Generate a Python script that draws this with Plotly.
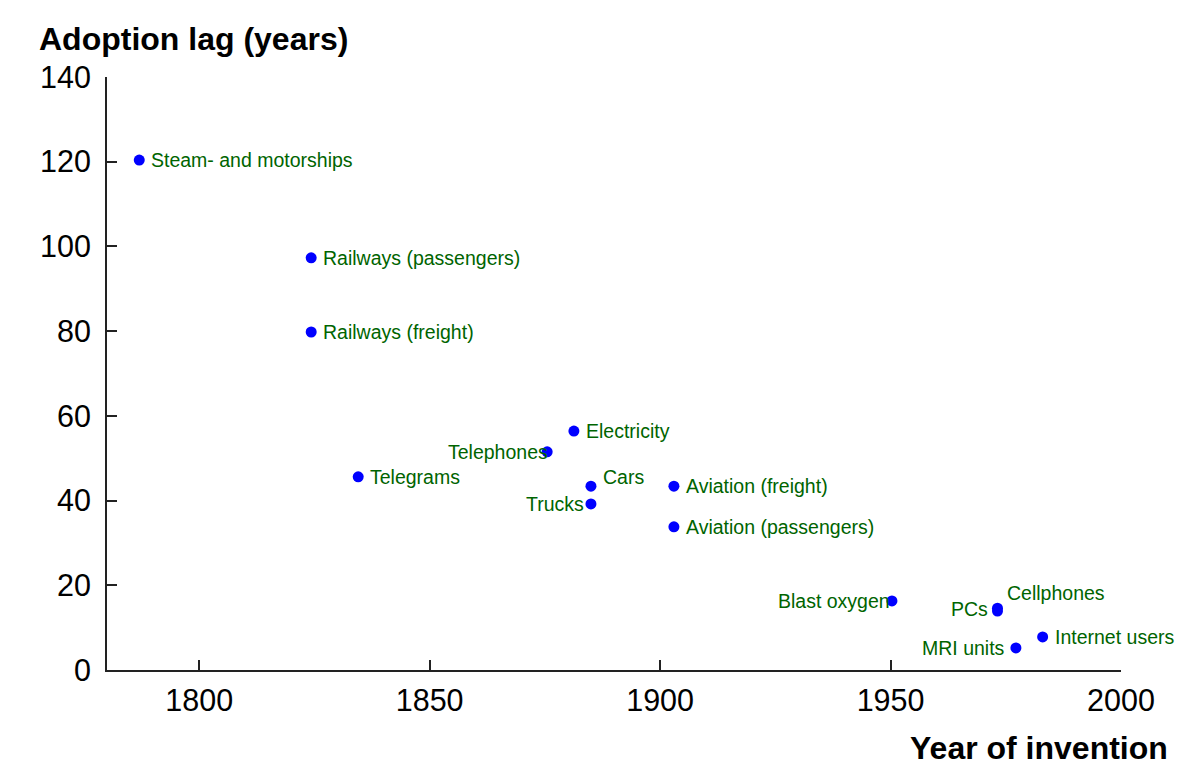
import plotly.graph_objects as go

# adoption lag data
techs = ["Steam- and motorships", "Railways (passengers)", "Railways (freight)",
         "Telegrams", "Telephones", "Electricity", "Cars", "Trucks",
         "Aviation (freight)", "Aviation (passengers)", "Blast oxygen",
         "PCs", "Cellphones", "MRI units", "Internet users"]
year = [1787, 1824.3, 1824.3, 1834.5, 1875.5, 1881.3, 1885, 1885,
        1903, 1903, 1950.3, 1973.2, 1973.2, 1977.2, 1983]
lag = [120.4, 97.3, 79.8, 45.6, 51.5, 56.4, 43.4, 39.2,
       43.4, 33.8, 16.3, 13.9, 14.6, 5.2, 7.8]

# label placement: (xanchor, xshift, yshift)
place = {
    "Telephones": ("right", 3, 0),
    "Trucks": ("right", -5, 0),
    "Cars": ("left", 10, 9),
    "Blast oxygen": ("right", 0, 0),
    "PCs": ("right", -7, 2),
    "Cellphones": ("left", 8, 15),
    "MRI units": ("right", -9, 0),
}

fig = go.Figure()
fig.add_trace(go.Scatter(x=year, y=lag, mode="markers",
                         marker=dict(color="#0000ff", size=11),
                         hovertext=techs, showlegend=False))

for t, x, y in zip(techs, year, lag):
    anc, xs, ys = place.get(t, ("left", 10, 0))
    fig.add_annotation(x=x, y=y, text=t, showarrow=False, xanchor=anc,
                       xshift=xs, yshift=ys,
                       font=dict(color="#006400", size=19.5))

fig.add_annotation(text="<b>Adoption lag (years)</b>", xref="paper", yref="paper",
                   x=0, y=1.0, xshift=-70, yshift=38, xanchor="left", yanchor="middle",
                   showarrow=False, font=dict(size=32, color="black"))
fig.add_annotation(text="<b>Year of invention</b>", xref="paper", yref="paper",
                   x=1.0, y=0, xshift=49, yshift=-78, xanchor="right", yanchor="middle",
                   showarrow=False, font=dict(size=32, color="black"))

axis_style = dict(showgrid=False, zeroline=False, showline=True, linecolor="#222",
                  linewidth=2, ticks="inside", ticklen=10, tickwidth=2, tickcolor="#222",
                  tickfont=dict(size=30.5, color="black"))
fig.update_xaxes(range=[1780, 2000], tickvals=[1800, 1850, 1900, 1950, 2000],
                 ticklabelstandoff=2, **axis_style)
fig.update_yaxes(range=[0, 140], tickvals=[0, 20, 40, 60, 80, 100, 120, 140],
                 ticklabelstandoff=8, **axis_style)

fig.update_layout(width=1200, height=782, plot_bgcolor="white", paper_bgcolor="white",
                  font=dict(family="Liberation Sans, Arial, sans-serif"),
                  margin=dict(l=99, r=87, t=69, b=120))

fig.write_html("out.html")
